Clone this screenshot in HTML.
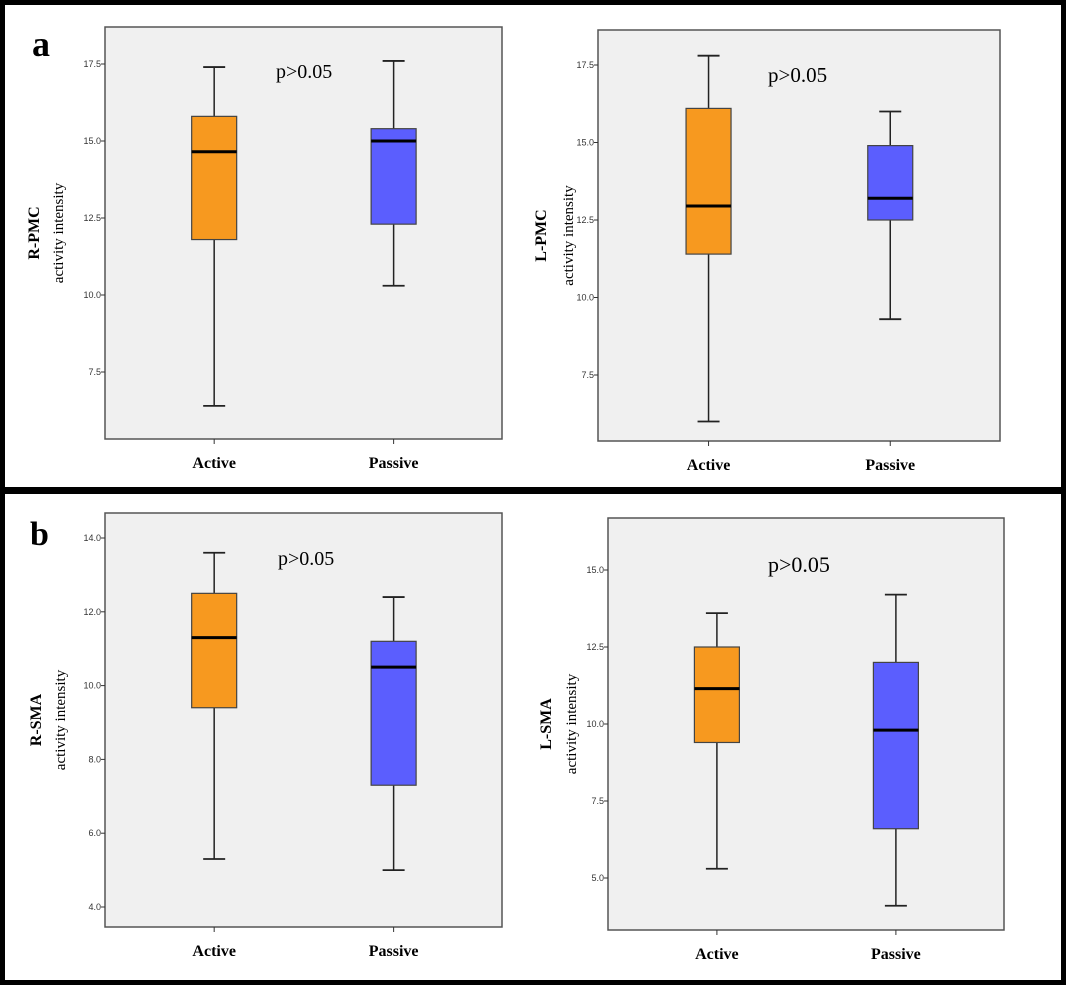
<!DOCTYPE html>
<html><head><meta charset="utf-8"><style>
html,body{margin:0;padding:0;background:#fff;}
svg{display:block;}
text{font-family:"Liberation Serif",serif;}
.tick{font-family:"Liberation Sans",sans-serif;font-size:9px;fill:#333;}
</style></head><body>
<svg id="fig" width="1066" height="985" viewBox="0 0 1066 985">
<rect x="2.5" y="2.5" width="1061" height="980" fill="#fff" stroke="#000" stroke-width="5"/>
<rect x="0" y="487" width="1066" height="7" fill="#000"/>
<text x="32" y="56" font-size="36" font-weight="bold">a</text>
<text x="30" y="545" font-size="34" font-weight="bold">b</text>
<circle cx="622" cy="888" r="1" fill="#f88"/>
<circle cx="622" cy="905" r="1" fill="#f88"/>
<g id="charts"></g>
</svg>
<script>
const categories = ["Active", "Passive"];
const panelNames = ["R-PMC", "L-PMC", "R-SMA", "L-SMA"];
// [max, q3, median, q1, min] per category
const rpmcActive = [17.4, 15.8, 14.65, 11.8, 6.4];
const rpmcPassive = [17.6, 15.4, 15.0, 12.3, 10.3];
const lpmcActive = [17.8, 16.1, 12.95, 11.4, 6.0];
const lpmcPassive = [16.0, 14.9, 13.2, 12.5, 9.3];
const rsmaActive = [13.6, 12.5, 11.3, 9.4, 5.3];
const rsmaPassive = [12.4, 11.2, 10.5, 7.3, 5.0];
const lsmaActive = [13.6, 12.5, 11.15, 9.4, 5.3];
const lsmaPassive = [14.2, 12.0, 9.8, 6.6, 4.1];
const pmcTicks = [7.5, 10.0, 12.5, 15.0, 17.5];
const rsmaTicks = [4.0, 6.0, 8.0, 10.0, 12.0, 14.0];
const lsmaTicks = [5.0, 7.5, 10.0, 12.5, 15.0];

const NS = "http://www.w3.org/2000/svg";
const root = document.getElementById("charts");
function mk(tag, attrs, parent) {
  const e = document.createElementNS(NS, tag);
  for (const k in attrs) e.setAttribute(k, attrs[k]);
  parent.appendChild(e);
  return e;
}
const colors = ["#f7991f", "#5b5efe"];

function panel(cfg) {
  const g = mk("g", {}, root);
  
  
  const y = v => cfg.yRef + (cfg.vRef - v) * cfg.pxPer;
  const bg = mk("rect", {x: cfg.x0, y: cfg.y0, width: cfg.x1 - cfg.x0, height: cfg.y1 - cfg.y0, fill: "#f0f0f0", stroke: "#555", "stroke-width": 1.5}, g);
  
  
  cfg.ticks.forEach(t => {
    const ty = y(t);
    const tl = mk("line", {x1: cfg.x0 - 4, x2: cfg.x0, y1: ty, y2: ty, stroke: "#333"}, g);
    
    
    const tx = mk("text", {x: cfg.x0 - 4, y: ty + 3, "text-anchor": "end", class: "tick"}, g);
    tx.textContent = t.toFixed(1);
    
    
  });
  const cx = [cfg.x0 + (cfg.x1 - cfg.x0) * 0.275, cfg.x0 + (cfg.x1 - cfg.x0) * 0.727];
  cfg.data.forEach((d, i) => {
    const c = cx[i];
    const bw = 45, cap = 11;
    const w1 = mk("line", {x1: c, x2: c, y1: y(d[0]), y2: y(d[1]), stroke: "#222", "stroke-width": 1.5}, g);
    
    
    const w2 = mk("line", {x1: c, x2: c, y1: y(d[3]), y2: y(d[4]), stroke: "#222", "stroke-width": 1.5}, g);
    
    
    [d[0], d[4]].forEach(v => {
      const cl = mk("line", {x1: c - cap, x2: c + cap, y1: y(v), y2: y(v), stroke: "#222", "stroke-width": 1.8}, g);
      
      
    });
    const b = mk("rect", {x: c - bw / 2, y: y(d[1]), width: bw, height: y(d[3]) - y(d[1]), fill: colors[i], stroke: "#444", "stroke-width": 1.2}, g);
    
    
    const m = mk("line", {x1: c - bw / 2, x2: c + bw / 2, y1: y(d[2]), y2: y(d[2]), stroke: "#000", "stroke-width": 3}, g);
    
    
    const xt = mk("line", {x1: c, x2: c, y1: cfg.y1, y2: cfg.y1 + 5, stroke: "#333"}, g);
    
    
    const xl = mk("text", {x: c, y: cfg.y1 + 29, "text-anchor": "middle", "font-size": 16, "font-weight": "bold"}, g);
    xl.textContent = categories[i];
    
    
  });
  const my = (cfg.y0 + cfg.y1) / 2;
  const t1 = mk("text", {x: 0, y: 0, transform: `translate(${cfg.tx1},${my}) rotate(-90)`, "text-anchor": "middle", "font-size": 16, "font-weight": "bold"}, g);
  t1.textContent = cfg.name;
  
  
  const t2 = mk("text", {x: 0, y: 0, transform: `translate(${cfg.tx2},${my}) rotate(-90)`, "text-anchor": "middle", "font-size": 15}, g);
  t2.textContent = "activity intensity";
  
  
  const p = mk("text", {x: cfg.px, y: cfg.py, "font-size": cfg.pSize}, g);
  p.textContent = "p>0.05";
  
  
}

panel({key: "r-pmc", name: panelNames[0], data: [rpmcActive, rpmcPassive], ticks: pmcTicks,
  x0: 105, x1: 502, y0: 27, y1: 439, yRef: 64, vRef: 17.5, pxPer: 77 / 2.5, px: 276, py: 78, pSize: 20, tx1: 39, tx2: 63});
panel({key: "l-pmc", name: panelNames[1], data: [lpmcActive, lpmcPassive], ticks: pmcTicks,
  x0: 598, x1: 1000, y0: 30, y1: 441, yRef: 65, vRef: 17.5, pxPer: 77.5 / 2.5, px: 768, py: 82, pSize: 21, tx1: 546, tx2: 573});
panel({key: "r-sma", name: panelNames[2], data: [rsmaActive, rsmaPassive], ticks: rsmaTicks,
  x0: 105, x1: 502, y0: 513, y1: 927, yRef: 538, vRef: 14.0, pxPer: 73.8 / 2, px: 278, py: 565, pSize: 20, tx1: 41, tx2: 65});
panel({key: "l-sma", name: panelNames[3], data: [lsmaActive, lsmaPassive], ticks: lsmaTicks,
  x0: 608, x1: 1004, y0: 518, y1: 930, yRef: 570, vRef: 15.0, pxPer: 77 / 2.5, px: 768, py: 572, pSize: 22, tx1: 551, tx2: 576});
</script>
</body></html>
